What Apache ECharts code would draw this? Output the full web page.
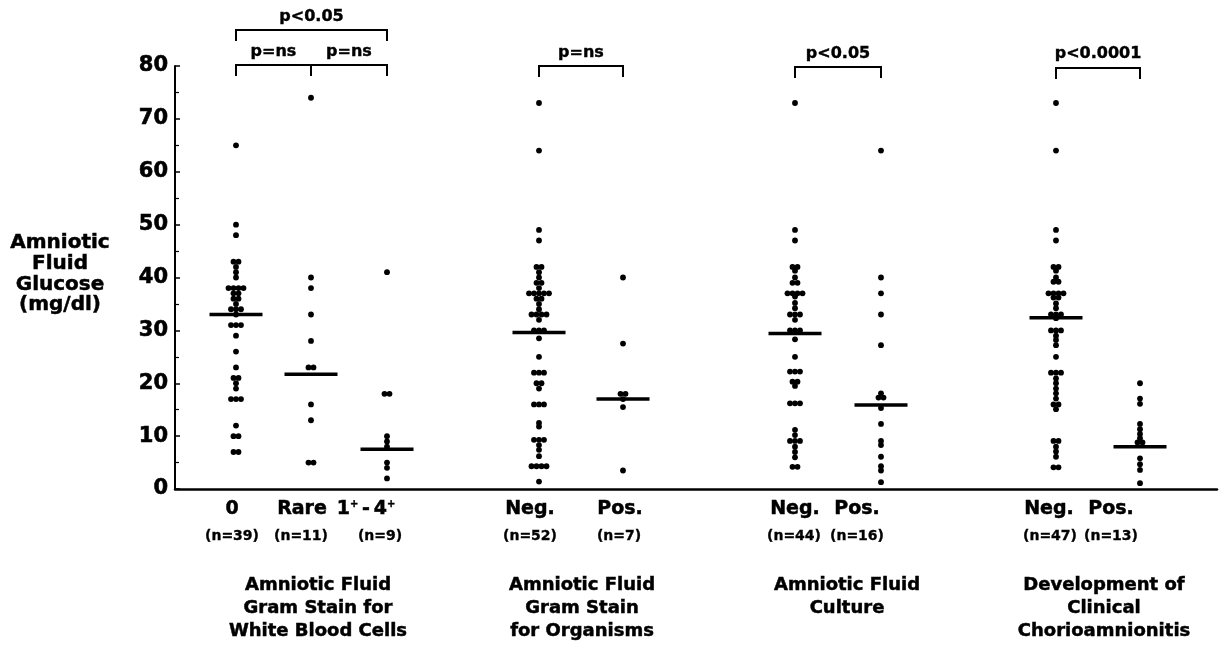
<!DOCTYPE html>
<html><head><meta charset="utf-8">
<script src="https://cdn.jsdelivr.net/npm/echarts@6/dist/echarts.min.js"></script>
<style>html,body{margin:0;padding:0;background:#fff}#c{width:1219px;height:652px}</style>
</head><body><div id="c"></div>
<script>
// ---------- data ----------
const categoryLabels = ['0', 'Rare', '1{s|+}\u2009-\u20094{s|+}', 'Neg.', 'Pos.', 'Neg.', 'Pos.', 'Neg.', 'Pos.'];
const countLabels = ['(n=39)', '(n=11)', '(n=9)', '(n=52)', '(n=7)', '(n=44)', '(n=16)', '(n=47)', '(n=13)'];
const groupTitles = [
  'Amniotic Fluid\nGram Stain for\nWhite Blood Cells',
  'Amniotic Fluid\nGram Stain\nfor Organisms',
  'Amniotic Fluid\nCulture',
  'Development of\nClinical\nChorioamnionitis'
];
const pValueLabels = ['p<0.05', 'p=ns', 'p=ns', 'p=ns', 'p<0.05', 'p<0.0001'];
const yAxisTitle = 'Amniotic\nFluid\nGlucose\n(mg/dl)';

const wbcZero = [65, 50, 48, 43, 43, 42, 41, 40, 38, 38, 38, 38, 37, 37, 36, 36, 35, 34, 34, 34, 33, 31, 31, 31, 29, 26, 23, 21, 21, 20, 19, 17, 17, 17, 12, 10, 10, 7, 7];
const wbcRare = [74, 40, 38, 33, 28, 23, 23, 16, 13, 5, 5];
const wbcPlus = [41, 18, 18, 10, 9, 8, 5, 4, 2];
const organismNeg = [73, 64, 49, 47, 42, 42, 41, 40, 39, 39, 38, 37, 37, 37, 37, 37, 36, 36, 35, 34, 33, 33, 33, 33, 32, 30, 30, 30, 28.5, 25, 22, 22, 22, 20, 20, 19, 16, 16, 16, 12.5, 11.8, 9.3, 9.3, 9.3, 8.3, 7.4, 6.2, 4.3, 4.3, 4.3, 4.3, 1.4];
const organismPos = [40, 27.5, 18, 18, 17, 15.5, 3.5];
const cultureNeg = [73, 49, 47, 42, 42, 41.3, 40, 39, 39, 37, 37, 37, 37, 36.4, 35.2, 34.2, 33, 33, 33, 32, 30, 30, 30, 28.3, 25, 22.2, 22.2, 22.2, 20.3, 20.3, 19.5, 16.2, 16.2, 16.2, 11.2, 10.2, 9.1, 9.1, 9.1, 8, 7, 6, 4.2, 4.2];
const culturePos = [64, 40, 37, 33, 27.2, 18.1, 17.3, 17.3, 15.3, 12.3, 9.1, 8.3, 6.1, 4.3, 3.5, 1.3];
const chorioNeg = [73, 64, 49, 47, 42, 42, 41.3, 40, 39.2, 39.2, 37, 37, 37, 37, 36.2, 36.2, 35.1, 34.2, 33, 33, 33, 32.3, 30, 30, 30, 29, 28.2, 27.2, 25, 22, 22, 22, 20.9, 20, 19, 18.1, 17.1, 16, 16, 15.1, 9.1, 9.1, 8, 7.1, 6.1, 4.1, 4.1];
const chorioPos = [20, 17.1, 16.1, 12.3, 11.3, 10.4, 9.6, 8.8, 8.8, 5.8, 4.7, 3.6, 1.1];
const medians = [33, 21.7, 7.5, 29.6, 17, 29.4, 15.9, 32.4, 8];

// ---------- layout (x-axis units) ----------
const columns = [wbcZero, wbcRare, wbcPlus, organismNeg, organismPos, cultureNeg, culturePos, chorioNeg, chorioPos];
const colX = [61, 136, 212, 364, 448, 620, 706, 881, 965];
const catLabelX = [57, 127, 191, 355, 445, 620, 682, 874, 936];
const countLabelX = [57, 126, 205, 355, 444, 619, 682, 875, 936];
const groupTitleX = [143, 407, 672, 929];
// brackets: [fromCol, toCol, lineY(px), tickY(px), labelY(px)]
const brackets = [
  [0, 2, 30, 41, 17],
  [0, 1, 65, 76, 52],
  [1, 2, 65, 76, 52],
  [3, 4, 66, 77, 53],
  [5, 6, 67, 78, 54],
  [7, 8, 68, 79, 54]
];
const DOT_GAP = 5;
const FONT = 'DejaVu Sans';

function swarm(values, cx) {
  const counts = {};
  values.forEach(v => { counts[v] = (counts[v] || 0) + 1; });
  const seen = {};
  return values.map(v => {
    const k = counts[v];
    const i = seen[v] = (seen[v] === undefined ? 0 : seen[v] + 1);
    return [cx + (i - (k - 1) / 2) * DOT_GAP, v];
  });
}

const chart = echarts.init(document.getElementById('c'), null, { renderer: 'canvas' });

const series = columns.map((vals, c) => ({
  type: 'scatter',
  data: swarm(vals, colX[c]),
  symbol: 'circle',
  symbolSize: 5.8,
  itemStyle: { color: '#000', opacity: 1 },
  silent: true,
  z: 3
}));
series.push({
  type: 'scatter',
  data: medians.map((m, c) => [colX[c], m]),
  symbol: 'rect',
  symbolSize: [53, 3.5],
  itemStyle: { color: '#000', opacity: 1 },
  silent: true,
  z: 4
});

chart.setOption({
  animation: false,
  backgroundColor: '#fff',
  grid: { left: 175, right: 2, top: 66, bottom: 163 },
  xAxis: {
    type: 'value', min: 0, max: 1042,
    axisLine: { show: true, onZero: false, lineStyle: { color: '#000', width: 2.5 } },
    axisTick: { show: false }, axisLabel: { show: false }, splitLine: { show: false }
  },
  yAxis: {
    type: 'value', min: 0, max: 80, interval: 10,
    axisLine: { show: true, lineStyle: { color: '#000', width: 2 } },
    axisTick: { show: true, inside: true, length: 5, lineStyle: { color: '#000', width: 1.5 } },
    minorTick: { show: true, splitNumber: 2, length: 4, lineStyle: { color: '#000', width: 1.2 } },
    splitLine: { show: false },
    axisLabel: { color: '#000', fontFamily: FONT, fontWeight: 'bold', fontSize: 21, margin: 7,
      textBorderColor: '#000', textBorderWidth: 0.6 }
  },
  series: series
});

function px(x) { return chart.convertToPixel({ gridIndex: 0 }, [x, 0])[0]; }

const graphics = [];
function text(x, y, str, size, opts) {
  graphics.push({
    type: 'text', x: x, y: y, silent: true,
    style: Object.assign({
      text: str, fill: '#000', font: 'bold ' + size + 'px "' + FONT + '"',
      stroke: '#000', lineWidth: 0.5,
      textAlign: 'center', textVerticalAlign: 'middle'
    }, opts || {})
  });
}

const supStyle = {
  s: { fontSize: 10, fontWeight: 'bold', fontFamily: FONT, fill: '#000', stroke: '#000', lineWidth: 0.4,
       verticalAlign: 'top', padding: [0, 0, 8, 0] }
};

text(60, 274, yAxisTitle, 20, { lineHeight: 20.7 });
categoryLabels.forEach((t, i) => text(px(catLabelX[i]), 509, t, 19, { rich: supStyle }));
countLabels.forEach((t, i) => text(px(countLabelX[i]), 536, t, 14, { lineWidth: 0.35 }));
groupTitles.forEach((t, i) => text(px(groupTitleX[i]), 574, t, 18, { textVerticalAlign: 'top', lineHeight: 23 }));

brackets.forEach((b, i) => {
  const x1 = px(colX[b[0]]), x2 = px(colX[b[1]]);
  graphics.push({
    type: 'polyline', silent: true,
    shape: { points: [[x1, b[3]], [x1, b[2]], [x2, b[2]], [x2, b[3]]] },
    style: { stroke: '#000', lineWidth: 2, fill: null }
  });
  text((x1 + x2) / 2, b[4], pValueLabels[i], 16, { lineWidth: 0.4 });
});

chart.setOption({ graphic: graphics });
</script>
</body></html>
